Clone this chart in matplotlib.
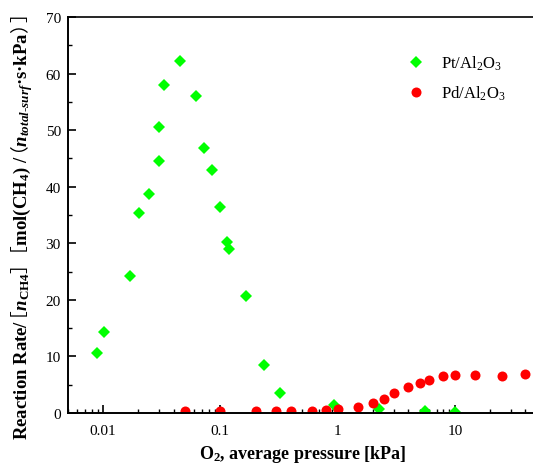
import matplotlib
matplotlib.use("Agg")
import matplotlib.pyplot as plt
from matplotlib.ticker import FixedLocator, LogLocator, MultipleLocator, FuncFormatter

plt.rcParams['font.family'] = ['Liberation Serif', 'Noto Sans CJK SC']
plt.rcParams['mathtext.fontset'] = 'custom'
plt.rcParams['mathtext.rm'] = 'Liberation Serif:bold'
plt.rcParams['mathtext.bf'] = 'Liberation Serif:bold'
plt.rcParams['mathtext.it'] = 'Liberation Serif:bold:italic'
plt.rcParams['mathtext.sf'] = 'Noto Sans CJK SC'

# Pt/Al2O3
pt_x = [0.0089, 0.0102, 0.0170, 0.0204, 0.0248, 0.0302, 0.0302, 0.0331, 0.0451,
        0.0625, 0.0731, 0.0849, 0.0994, 0.114, 0.1187, 0.1655, 0.237, 0.321,
        0.927, 2.27, 5.56, 10.0]
pt_y = [10.6, 14.4, 24.3, 35.4, 38.7, 44.5, 50.5, 57.9, 62.2,
        56.0, 46.9, 43.0, 36.5, 30.2, 29.0, 20.6, 8.4, 3.5,
        1.4, 0.7, 0.3, 0.2]

# Pd/Al2O3
pd_x = [0.05, 0.1, 0.2, 0.3, 0.4, 0.6, 0.8, 1.0, 1.5, 2.0, 2.5, 3.0, 4.0,
        5.0, 6.0, 8.0, 10.0, 15.0, 25.0, 40.0]
pd_y = [0.3, 0.3, 0.3, 0.35, 0.35, 0.4, 0.6, 0.65, 1.06, 1.77, 2.47, 3.47, 4.6,
        5.24, 5.83, 6.48, 6.66, 6.66, 6.6, 6.9]

fig = plt.figure(figsize=(5.33, 4.64), dpi=100)
ax = fig.add_axes([67.8 / 533, 50 / 464, 469 / 533, 396 / 464])

ax.plot(pt_x, pt_y, 'D', color='#00ff00', markersize=6.3, markeredgewidth=0,
        label='Pt/Al$_\\mathregular{2}$O$_\\mathregular{3}$')
ax.plot(pd_x, pd_y, 'o', color='#ff0000', markersize=7.2, markeredgewidth=0,
        label='Pd/Al$_\\mathregular{2}$O$_\\mathregular{3}$')

ax.set_xscale('log')
ax.set_xlim(0.005, 50)
ax.set_ylim(0, 70)

ax.xaxis.set_major_locator(FixedLocator([0.01, 0.1, 1, 10]))
ax.xaxis.set_minor_locator(LogLocator(base=10, subs=range(2, 10)))
ax.xaxis.set_major_formatter(FuncFormatter(lambda v, p: '%g' % v))
ax.yaxis.set_major_locator(MultipleLocator(10))
ax.yaxis.set_minor_locator(MultipleLocator(5))

ax.tick_params(which='both', direction='in', labelsize=11, top=False, right=False)
ax.tick_params(which='major', length=6, width=1.2)
ax.tick_params(which='minor', length=3, width=1.0)
ax.tick_params(axis='x', which='major', pad=8)
ax.tick_params(axis='y', which='major', pad=5)

for s in ['left', 'bottom']:
    ax.spines[s].set_linewidth(1.4)
ax.spines['top'].set_linewidth(1.2)
ax.spines['right'].set_visible(False)

ax.set_xlabel('O$_\\mathregular{2}$, average pressure [kPa]', fontsize=13,
              fontweight='bold', labelpad=4)

# fullwidth brackets, with their side bearings trimmed
lb = '\\!\\!\\!\\mathsf{［}'
rb = '\\mathsf{］}\\!\\!\\!'
lp = '\\!\\!\\!\\mathsf{（}'
rp = '\\mathsf{）}\\!\\!\\!'
ylab = ('Reaction Rate/$' + lb + 'n_{\\mathrm{CH4}}' + rb + '\\ ' + lb
        + '$mol(CH$_\\mathregular{4}$) /$' + lp + 'n_{total\\text{-}surf}$'
        + '·s·kPa$' + rp + rb + '$')
ax.set_ylabel(ylab, fontsize=13.5, fontweight='bold')
ax.yaxis.set_label_coords(-0.071, 0.471)

leg = ax.legend(loc='upper left', bbox_to_anchor=(0.69, 0.945), frameon=False,
                fontsize=12, labelspacing=0.7, handletextpad=0.9,
                handlelength=1.2)

fig.savefig('out.png', dpi=100)
